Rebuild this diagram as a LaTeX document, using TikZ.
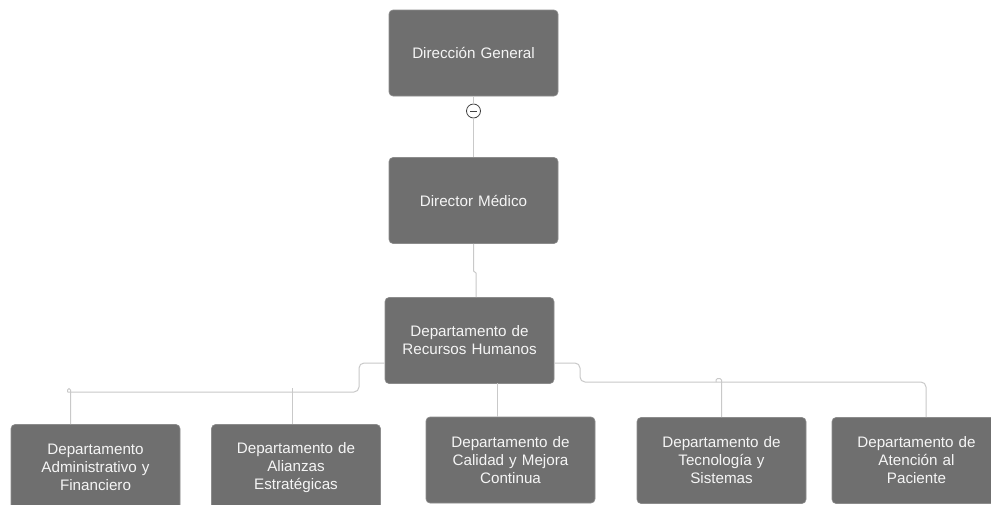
\documentclass[tikz,border=0pt]{standalone}
\usepackage{fontspec}
\setmainfont{Liberation Sans}
\begin{document}
\begin{tikzpicture}[x=1pt,y=-1pt,
  orgbox/.style={draw=black!45, line width=0.6pt, fill=boxgray, rounded corners=4pt,
    minimum width=169pt, minimum height=86pt, inner sep=0pt, align=center,
    text width=165pt, text=white!96!black,
    font=\fontsize{15.2pt}{18pt}\selectfont},
  link/.style={draw=linkgray, line width=1pt},
]
\definecolor{boxgray}{HTML}{6F6F6F}
\definecolor{linkgray}{HTML}{C9C9C9}
\useasboundingbox (0,0) rectangle (991,504);
\fill[white] (0,0) rectangle (991,504);

\node[orgbox] (dg) at (473.5,53) {Dirección General};
\node[orgbox] (dm) at (473.5,200.5) {Director Médico};
\node[orgbox] (rh) at (469.5,340.5) {Departamento de\\Recursos Humanos};
\node[orgbox] (b1) at (95.5,467.5) {Departamento\\Administrativo y\\Financiero};
\node[orgbox] (b2) at (296,467.5) {Departamento de\\Alianzas\\Estratégicas};
\node[orgbox] (b3) at (510.5,460) {Departamento de\\Calidad y Mejora\\Continua};
\node[orgbox] (b4) at (721.5,460.5) {Departamento de\\Tecnología y\\Sistemas};
\node[orgbox] (b5) at (916.5,460.5) {Departamento de\\Atención al\\Paciente};

% collapse toggle
\node[circle, draw=black!75, fill=white, line width=0.8pt, minimum size=14pt, inner sep=0pt] (tg) at (473.5,111) {};
\draw[black!75, line width=1pt] ([xshift=-3.5pt]tg.center) -- ([xshift=3.5pt]tg.center);

\draw[link] (dg.south) -- (tg.north);
\draw[link] (tg.south) -- (dm.north);

\coordinate (j1) at (473.5,271);
\coordinate (j2) at (476,273);
\draw[link] (dm.south) -- (j1) -- (j2) -- (rh.north -| j2);

% left branch
\coordinate (l1) at (rh.west |- 0,363);
\draw[link, rounded corners=5pt] (rh.west |- l1) -- (359,363) -- (359,392) -- (67.5,392);
\draw[link, rounded corners=1.5pt] (67.5,392) -- (67.5,388.5) -- (70.5,388.5) -- (b1.north -| 70.5,0);
\draw[link] (292,388) -- (b2.north -| 292,0);

% right branch
\draw[link, rounded corners=5pt] (rh.east |- l1) -- (580,363) -- (580,382) -- (926,382) -- (b5.north -| 926,0);
\draw[link, rounded corners=1.5pt] (716,382) -- (716,378.5) -- (721.5,378.5) -- (b4.north -| 721.5,0);
\draw[link] (497,383) -- (b3.north -| 497,0);
\end{tikzpicture}
\end{document}
